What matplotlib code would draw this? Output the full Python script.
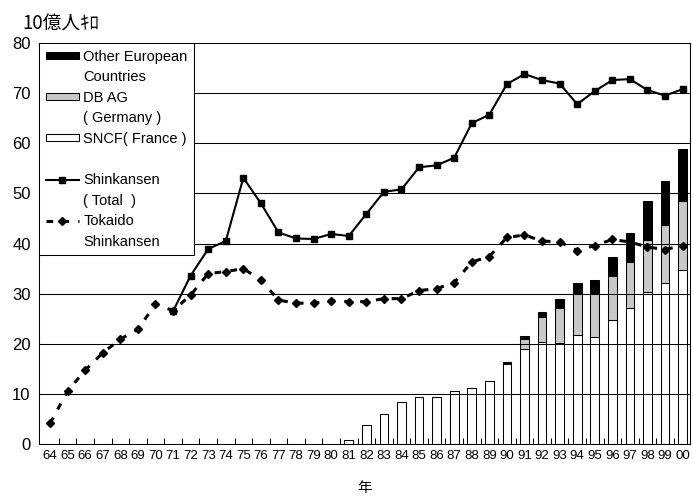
import numpy as np
import matplotlib.pyplot as plt
from matplotlib.patches import Patch
from matplotlib.lines import Line2D

plt.rcParams['font.family'] = ['Liberation Sans', 'DejaVu Sans']

years = ['64', '65', '66', '67', '68', '69', '70', '71', '72', '73', '74', '75',
         '76', '77', '78', '79', '80', '81', '82', '83', '84', '85', '86', '87',
         '88', '89', '90', '91', '92', '93', '94', '95', '96', '97', '98', '99', '00']

nan = np.nan
shinkansen_total = [nan, nan, nan, nan, nan, nan, nan, 26.5, 33.6, 38.9, 40.5, 53.1,
                    48.0, 42.2, 41.0, 40.9, 41.9, 41.5, 45.9, 50.3, 50.8, 55.2, 55.6, 57.1,
                    64.0, 65.7, 71.8, 73.8, 72.6, 71.9, 67.8, 70.4, 72.6, 72.8, 70.6, 69.5, 70.8]
tokaido = [4.1, 10.6, 14.7, 18.2, 20.9, 22.9, 27.9, 26.6, 29.7, 34.0, 34.4, 35.0,
           32.7, 28.7, 28.1, 28.1, 28.6, 28.4, 28.4, 29.0, 29.0, 30.6, 31.0, 32.2,
           36.3, 37.4, 41.2, 41.7, 40.5, 40.3, 38.6, 39.6, 40.8, 40.3, 39.3, 38.8, 39.6]

# 81年以降のみ
sncf = [0] * 17 + [0.7, 3.8, 5.9, 8.4, 9.4, 9.4, 10.6, 11.2, 12.5, 16.0, 19.0, 20.3,
                   20.1, 21.8, 21.4, 24.8, 27.1, 30.4, 32.1, 34.8]
db_ag = [0] * 27 + [1.9, 5.1, 7.0, 8.1, 8.5, 8.7, 9.2, 10.2, 11.5, 13.6]
other_eu = [0] * 26 + [0.4, 0.7, 1.0, 1.8, 2.2, 2.9, 3.8, 5.8, 7.8, 8.9, 10.4]

x = np.arange(len(years))
sncf = np.array(sncf)
db_ag = np.array(db_ag)
other_eu = np.array(other_eu)

fig = plt.figure(figsize=(6.93, 4.96), dpi=100)
ax = fig.add_axes([39/693, 1 - 444/496, 651/693, 401/496])

bw = 0.5
m = sncf > 0
ax.bar(x[m], sncf[m], bw, color='white', edgecolor='black', linewidth=0.75, zorder=1)
m = db_ag > 0
ax.bar(x[m], db_ag[m], bw, bottom=sncf[m], color='#c8c8c8', edgecolor='black',
       linewidth=0.75, zorder=1)
m = other_eu > 0
ax.bar(x[m], other_eu[m], bw, bottom=(sncf + db_ag)[m], color='black', edgecolor='black',
       linewidth=0.75, zorder=1)

ax.plot(x, shinkansen_total, color='black', lw=1.5, marker='s', ms=4.5, zorder=4)
ax.plot(x, tokaido, color='black', lw=2.2, ls=(0, (2.2, 3)), marker='D', ms=4,
        zorder=4)

ax.set_xlim(-0.63, 36.42)
ax.set_ylim(0, 80)
ax.set_yticks(range(0, 81, 10))
ax.set_xticks(x)
ax.set_xticklabels(years)
ax.set_xticks(x[:-1] + 0.5, minor=True)
ax.tick_params(axis='y', length=0, pad=6, labelsize=12)
ax.tick_params(axis='x', which='major', length=0, pad=4, labelsize=9.5)
ax.tick_params(axis='x', which='minor', direction='in', length=4, width=0.75)

ax.set_axisbelow(False)
ax.yaxis.grid(True, color='black', lw=0.75)
for s in ax.spines.values():
    s.set_linewidth(0.75)

ax.set_xlabel('年', family=['Noto Sans CJK JP'], fontsize=10.5, labelpad=14)
fig.text(22/693, 1 - 29/496, '10億人ｷﾛ', family=['Noto Sans CJK JP'], fontsize=13.5,
         va='baseline', ha='left')

blank = Patch(facecolor='none', edgecolor='none')
handles = [
    Patch(facecolor='black', edgecolor='black', lw=0.75), blank,
    Patch(facecolor='#c8c8c8', edgecolor='black', lw=0.75), blank,
    Patch(facecolor='white', edgecolor='black', lw=0.75), blank,
    Line2D([], [], color='black', lw=1.5, marker='s', ms=4.5), blank,
    Line2D([], [], color='black', lw=2.2, ls=(0, (2.2, 3)), marker='D', ms=4), blank,
]
labels = ['Other European', 'Countries', 'DB AG', '( Germany )', 'SNCF( France )', ' ',
          'Shinkansen', '( Total  )', 'Tokaido', 'Shinkansen']
leg = ax.legend(handles, labels, loc='upper left', bbox_to_anchor=(0, 1), borderaxespad=0,
                fontsize=10.5, handlelength=2.3, handleheight=0.34, handletextpad=0.3,
                borderpad=0.45, labelspacing=0.45, fancybox=False, framealpha=1,
                edgecolor='black')
leg.get_frame().set_linewidth(0.75)
leg.set_zorder(6)

fig.savefig('out.png', dpi=100)
